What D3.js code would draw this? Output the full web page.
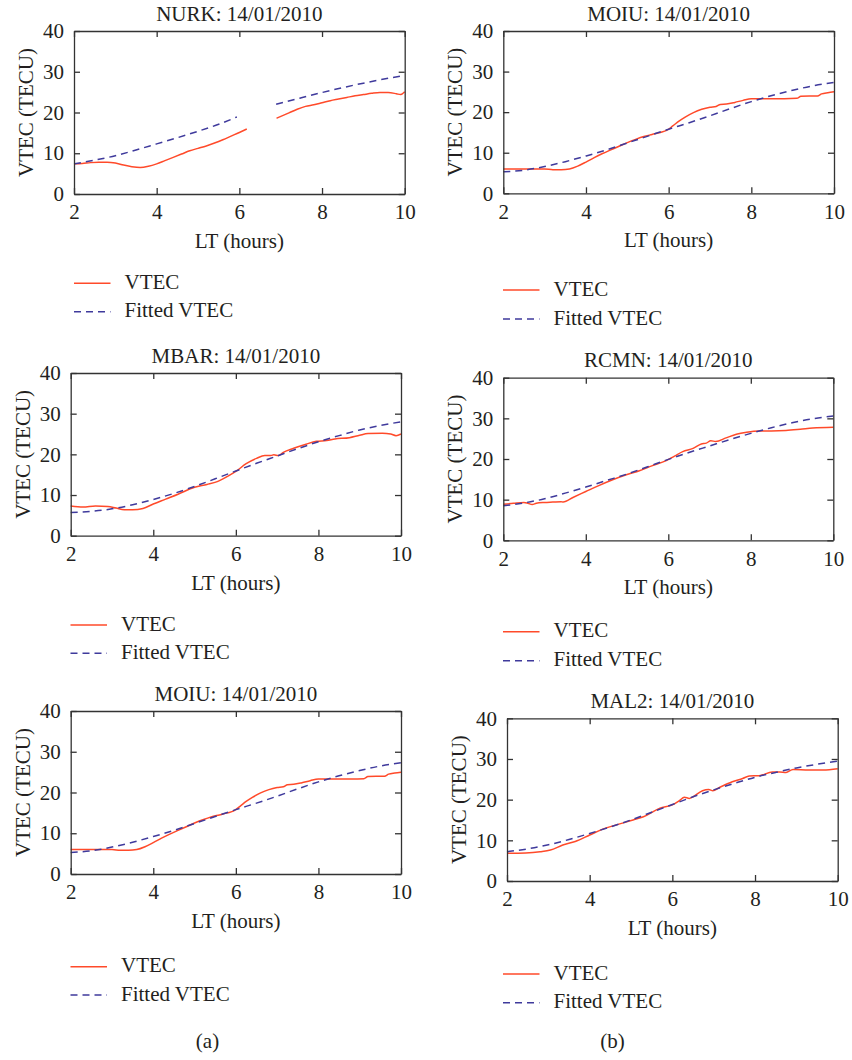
<!DOCTYPE html>
<html>
<head>
<meta charset="utf-8">
<script src="https://cdn.jsdelivr.net/npm/d3@7"></script>
<style>
  html, body { margin: 0; padding: 0; background: #ffffff; }
  svg { display: block; font-family: "Liberation Serif", "Times New Roman", serif; }
</style>
</head>
<body>
<svg id="chart" width="852" height="1060"></svg>
<script>
// ---- Axis ticks and labels ----
const xTicks = [2, 4, 6, 8, 10];
const yTicks = [0, 10, 20, 30, 40];
const dateLabel = "14/01/2010";
const seriesLabels = ["VTEC", "Fitted VTEC"];
const xTitle = "LT (hours)";
const yTitle = "VTEC (TECU)";
const captions = ["(a)", "(b)"];

// ---- NURK (gap in the record between ~6.2 h and ~6.9 h) ----
const nurkVtecHours = [2.0, 2.2, 2.4, 2.6, 2.8, 3.0, 3.2, 3.4, 3.6, 3.8, 4.0, 4.2, 4.4, 4.6, 4.8, 5.0, 5.2, 5.4, 5.6, 5.8, 6.0, 6.18, 6.5, 6.9, 7.2, 7.4, 7.6, 7.8, 8.0, 8.2, 8.4, 8.6, 8.8, 9.0, 9.2, 9.4, 9.6, 9.8, 9.9, 10.0];
const nurkVtec      = [7.4, 7.5, 7.7, 7.8, 7.8, 7.6, 7.1, 6.7, 6.5, 6.8, 7.4, 8.2, 9.0, 9.8, 10.6, 11.2, 11.8, 12.5, 13.3, 14.2, 15.1, 15.95, null, 18.6, 19.9, 20.8, 21.5, 21.9, 22.4, 22.9, 23.3, 23.7, 24.1, 24.4, 24.7, 24.9, 24.9, 24.6, 24.4, 25.1];
const nurkFitHours  = [2.0, 2.5, 3.0, 3.5, 4.0, 4.5, 5.0, 5.5, 5.94, 6.4, 6.89, 7.5, 8.0, 8.5, 9.0, 9.5, 10.0];
const nurkFit       = [7.4, 8.3, 9.4, 10.8, 12.3, 13.8, 15.4, 17.1, 18.9, null, 22.0, 23.6, 24.9, 26.1, 27.2, 28.2, 29.1];

// ---- Shared half-hour grid for the fitted curves ----
const fitHours = [2.0, 2.5, 3.0, 3.5, 4.0, 4.5, 5.0, 5.5, 6.0, 6.5, 7.0, 7.5, 8.0, 8.5, 9.0, 9.5, 10.0];

// ---- MOIU ----
const moiuVtecHours = [2.0, 2.4, 2.8, 3.0, 3.2, 3.4, 3.6, 3.8, 4.0, 4.2, 4.4, 4.6, 4.8, 5.0, 5.2, 5.4, 5.6, 5.8, 5.95, 6.1, 6.25, 6.4, 6.6, 6.8, 7.0, 7.15, 7.25, 7.4, 7.6, 7.8, 8.0, 8.2, 8.5, 8.8, 9.1, 9.2, 9.4, 9.6, 9.7, 9.85, 10.0];
const moiuVtec      = [6.0, 6.0, 6.0, 6.0, 5.8, 5.8, 6.0, 6.7, 7.7, 8.8, 9.8, 10.7, 11.6, 12.5, 13.3, 14.0, 14.5, 15.0, 15.5, 16.6, 17.8, 18.8, 19.9, 20.7, 21.2, 21.4, 21.9, 22.0, 22.4, 22.9, 23.3, 23.3, 23.3, 23.3, 23.4, 23.9, 24.0, 24.0, 24.5, 24.8, 25.0];
const moiuFit       = [5.3, 5.7, 6.6, 7.8, 9.2, 10.7, 12.4, 14.1, 15.8, 17.4, 19.1, 20.9, 22.6, 24.1, 25.4, 26.5, 27.3];

// ---- MBAR ----
const mbarVtecHours = [2.0, 2.3, 2.6, 2.9, 3.1, 3.3, 3.5, 3.75, 4.0, 4.3, 4.6, 5.0, 5.3, 5.55, 5.8, 6.0, 6.25, 6.5, 6.7, 6.85, 6.92, 7.03, 7.15, 7.4, 7.7, 7.95, 8.2, 8.4, 8.75, 9.0, 9.2, 9.55, 9.75, 9.88, 10.0];
const mbarVtec      = [7.3, 7.05, 7.3, 7.2, 6.8, 6.4, 6.4, 6.7, 7.8, 9.0, 10.2, 11.9, 12.6, 13.3, 14.6, 15.8, 17.7, 19.0, 19.7, 19.7, 19.9, 19.7, 20.5, 21.5, 22.5, 23.2, 23.4, 23.8, 24.1, 24.7, 25.1, 25.2, 25.0, 24.6, 25.0];
const mbarFit       = [5.7, 6.0, 6.6, 7.6, 8.9, 10.4, 12.1, 14.0, 15.9, 17.8, 19.6, 21.4, 23.1, 24.6, 26.0, 27.1, 28.0];

// ---- RCMN ----
const rcmnVtecHours = [2.0, 2.25, 2.5, 2.6, 2.7, 2.8, 3.0, 3.2, 3.4, 3.45, 3.7, 4.0, 4.3, 4.65, 5.0, 5.3, 5.6, 5.95, 6.15, 6.35, 6.6, 6.8, 6.92, 7.03, 7.15, 7.4, 7.65, 7.9, 8.2, 8.5, 8.85, 9.2, 9.5, 10.0];
const rcmnVtec      = [8.85, 9.1, 9.3, 9.1, 8.8, 9.1, 9.3, 9.4, 9.5, 9.4, 10.6, 12.0, 13.4, 14.9, 16.2, 17.1, 18.3, 19.6, 20.7, 21.8, 22.6, 23.7, 23.9, 24.5, 24.3, 25.2, 26.1, 26.6, 26.9, 26.9, 27.0, 27.3, 27.6, 27.8];
const rcmnFit       = [8.5, 9.2, 10.2, 11.6, 13.1, 14.7, 16.3, 18.1, 19.9, 21.6, 23.2, 24.8, 26.3, 27.7, 28.9, 29.9, 30.6];

// ---- MAL2 ----
const mal2VtecHours = [2.0, 2.45, 2.8, 3.05, 3.35, 3.65, 4.0, 4.3, 4.65, 5.05, 5.3, 5.7, 6.0, 6.17, 6.29, 6.41, 6.5, 6.73, 6.88, 6.98, 7.14, 7.45, 7.7, 7.86, 8.1, 8.42, 8.6, 8.75, 8.92, 9.3, 9.65, 10.0];
const mal2Vtec      = [6.8, 6.9, 7.2, 7.6, 8.85, 9.7, 11.3, 12.7, 13.8, 15.0, 15.8, 17.9, 18.7, 19.75, 20.6, 20.3, 20.7, 22.2, 22.5, 22.2, 23.0, 24.4, 25.2, 25.8, 25.9, 26.8, 26.8, 26.7, 27.4, 27.3, 27.3, 27.6];
const mal2Fit       = [7.2, 7.9, 8.9, 10.2, 11.7, 13.3, 15.0, 16.9, 18.8, 20.7, 22.4, 24.0, 25.5, 26.7, 27.8, 28.7, 29.5];

// ---- Panel layout: left column (a), right column (b) ----
const panels = [
  { station: "NURK", vh: nurkVtecHours, v: nurkVtec, fh: nurkFitHours, f: nurkFit,
    box: [74, 404.7, 31, 194],     legend: [74, 283.3, 28.4] },
  { station: "MOIU", vh: moiuVtecHours, v: moiuVtec, fh: fitHours, f: moiuFit,
    box: [503.3, 834, 31, 193.3],  legend: [503, 290, 29] },
  { station: "MBAR", vh: mbarVtecHours, v: mbarVtec, fh: fitHours, f: mbarFit,
    box: [70.7, 401, 373, 535.7],  legend: [70.5, 625, 28.3] },
  { station: "RCMN", vh: rcmnVtecHours, v: rcmnVtec, fh: fitHours, f: rcmnFit,
    box: [503.3, 833.3, 377.7, 540.3], legend: [503, 631.7, 29] },
  { station: "MOIU", vh: moiuVtecHours, v: moiuVtec, fh: fitHours, f: moiuFit,
    box: [70.7, 401, 711, 874],    legend: [70.5, 966.7, 28.3] },
  { station: "MAL2", vh: mal2VtecHours, v: mal2Vtec, fh: fitHours, f: mal2Fit,
    box: [507, 837.7, 718.3, 881], legend: [503, 974, 28.7] }
];

const FONT_SIZE = 21;
const TEXT = "#231f20";
const AXIS = "#333333";
const RED = "#ff4a2a";
const BLUE = "#3f3a9c";
const DASH = "7,5";

const svg = d3.select("#chart");

function styleAxis(sel) {
  sel.attr("font-family", null).attr("font-size", null);
  sel.select(".domain").attr("stroke", AXIS).attr("stroke-width", 1.3);
  sel.selectAll(".tick line").attr("stroke", AXIS).attr("stroke-width", 1.3);
  sel.selectAll(".tick text").attr("fill", TEXT).style("font-size", FONT_SIZE + "px");
}

panels.forEach(p => {
  const [left, right, top, bottom] = p.box;
  const x = d3.scaleLinear().domain([2, 10]).range([left, right]);
  const y = d3.scaleLinear().domain([0, 40]).range([bottom, top]);
  const g = svg.append("g").attr("class", "panel");

  // VTEC series and its fitted curve
  const line = d3.line()
    .defined(d => d[1] !== null)
    .x(d => x(d[0]))
    .y(d => y(d[1]))
    .curve(d3.curveMonotoneX);

  g.append("path")
    .datum(p.vh.map((h, i) => [h, p.v[i]]))
    .attr("fill", "none")
    .attr("stroke", RED)
    .attr("stroke-width", 1.5)
    .attr("stroke-linejoin", "round")
    .attr("d", line);

  g.append("path")
    .datum(p.fh.map((h, i) => [h, p.f[i]]))
    .attr("fill", "none")
    .attr("stroke", BLUE)
    .attr("stroke-width", 1.5)
    .attr("stroke-dasharray", DASH)
    .attr("d", line);

  // Frame with inward ticks on all four sides
  g.append("g").attr("transform", `translate(0,${bottom})`)
    .call(d3.axisBottom(x).tickValues(xTicks).tickSize(-6).tickSizeOuter(0).tickPadding(10.5))
    .call(styleAxis);
  g.append("g").attr("transform", `translate(0,${top})`)
    .call(d3.axisTop(x).tickValues(xTicks).tickSize(-6).tickSizeOuter(0).tickFormat(""))
    .call(styleAxis);
  g.append("g").attr("transform", `translate(${left},0)`)
    .call(d3.axisLeft(y).tickValues(yTicks).tickSize(-6).tickSizeOuter(0).tickPadding(10))
    .call(styleAxis);
  g.append("g").attr("transform", `translate(${right},0)`)
    .call(d3.axisRight(y).tickValues(yTicks).tickSize(-6).tickSizeOuter(0).tickFormat(""))
    .call(styleAxis);

  // Title and axis titles
  g.append("text")
    .attr("x", (left + right) / 2).attr("y", top - 10.5)
    .attr("text-anchor", "middle")
    .attr("fill", TEXT).style("font-size", FONT_SIZE + "px")
    .text(`${p.station}: ${dateLabel}`);

  g.append("text")
    .attr("x", (left + right) / 2).attr("y", bottom + 54)
    .attr("text-anchor", "middle")
    .attr("fill", TEXT).style("font-size", FONT_SIZE + "px")
    .text(xTitle);

  g.append("text")
    .attr("transform", `translate(${left - 41},${(top + bottom) / 2}) rotate(-90)`)
    .attr("text-anchor", "middle")
    .attr("fill", TEXT).style("font-size", FONT_SIZE + "px")
    .text(yTitle);

  // Legend below the axes
  const [lx, ly, gap] = p.legend;
  const items = [
    { label: seriesLabels[0], color: RED, dash: null },
    { label: seriesLabels[1], color: BLUE, dash: DASH }
  ];
  items.forEach((it, i) => {
    const yy = ly + i * gap;
    g.append("line")
      .attr("x1", lx).attr("x2", lx + 36.5)
      .attr("y1", yy).attr("y2", yy)
      .attr("stroke", it.color).attr("stroke-width", 1.5)
      .attr("stroke-dasharray", it.dash);
    g.append("text")
      .attr("x", lx + 50.5).attr("y", yy + 5.5)
      .attr("fill", TEXT).style("font-size", FONT_SIZE + "px")
      .text(it.label);
  });
});

// Column captions
[207.5, 612.5].forEach((cx, i) => {
  svg.append("text")
    .attr("x", cx).attr("y", 1048)
    .attr("text-anchor", "middle")
    .attr("fill", TEXT).style("font-size", FONT_SIZE + "px")
    .text(captions[i]);
});
</script>
</body>
</html>
